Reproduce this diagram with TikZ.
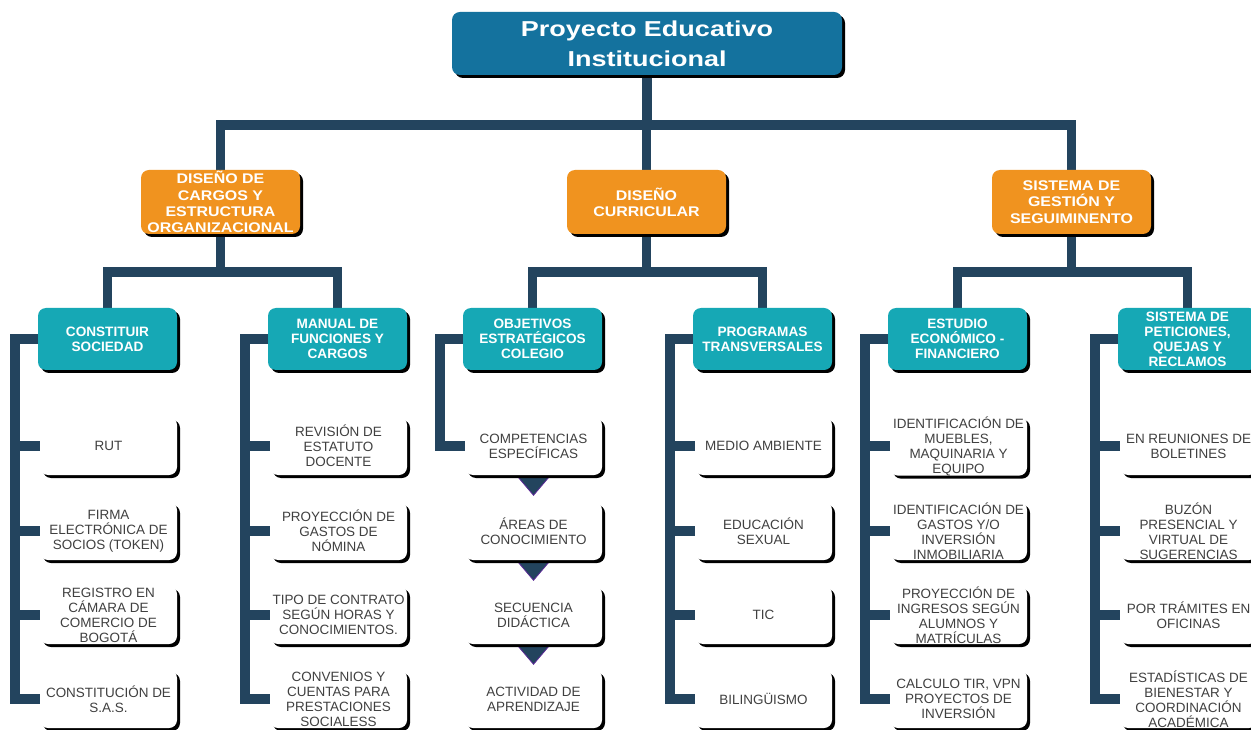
\documentclass[tikz,border=0pt]{standalone}
\usepackage{fontspec}
\setmainfont{Liberation Sans}
\newfontfamily\titlefont{Liberation Sans}[FakeStretch=1.25]
\newfontfamily\orangefont{Liberation Sans}[FakeStretch=1.14]
\usetikzlibrary{shadows,calc,backgrounds}
\definecolor{pblue}{RGB}{20,114,158}
\definecolor{porange}{RGB}{240,147,31}
\definecolor{pteal}{RGB}{22,168,181}
\definecolor{pnavy}{RGB}{35,68,94}
\definecolor{ptext}{RGB}{64,64,64}
\definecolor{ppurple}{RGB}{90,40,150}
\tikzset{
 shd/.style={drop shadow={shadow xshift=2.25pt, shadow yshift=-2.25pt, fill=black, opacity=1}},
 titlebox/.style={shd, fill=pblue, rounded corners=6pt, minimum width=292.5pt, minimum height=47.25pt, inner sep=0pt, align=center, text=white, font=\titlefont\bfseries\fontsize{16.2}{22.5}\selectfont},
 orangebox/.style={shd, fill=porange, rounded corners=6pt, minimum width=119.25pt, minimum height=48pt, inner sep=0pt, align=center, text=white, font=\orangefont\bfseries\fontsize{10.5}{12.2}\selectfont},
 tealbox/.style={shd, fill=pteal, rounded corners=6pt, minimum width=104.25pt, minimum height=46.5pt, inner sep=0pt, align=center, text=white, font=\bfseries\fontsize{10.2}{11.25}\selectfont},
 leafbox/.style={shd, fill=white, rounded corners=6pt, minimum width=102.75pt, minimum height=43.5pt, inner sep=0pt, align=center, text=ptext, font=\fontsize{10.1}{11.25}\selectfont},
 conn/.style={draw=pnavy, line width=7.2pt, line join=miter},
 tri/.style={fill=pnavy, draw=ppurple, line width=0.6pt, line join=miter}
}
\begin{document}
\begin{tikzpicture}[x=0.75pt, y=-0.75pt]
\path[use as bounding box] (0,0) rectangle (1251,730);
\clip (0,0) rectangle (1251,730);

\node[titlebox] (pei) at (647,43.5) {Proyecto Educativo\\Institucional};

\node[orangebox] (o1) at (220.5,202) {DISEÑO DE\\CARGOS Y\\ESTRUCTURA\\ORGANIZACIONAL};
\node[orangebox] (o2) at (646.5,202) {DISEÑO\\CURRICULAR};
\node[orangebox] (o3) at (1071.5,202) {SISTEMA DE\\GESTIÓN Y\\SEGUIMINENTO};

\node[tealbox] (t1) at (107.5,339) {CONSTITUIR\\SOCIEDAD};
\node[tealbox] (t2) at (337.5,339) {MANUAL DE\\FUNCIONES Y\\CARGOS};
\node[tealbox] (t3) at (532.5,339) {OBJETIVOS\\ESTRATÉGICOS\\COLEGIO};
\node[tealbox] (t4) at (762.5,339) {PROGRAMAS\\TRANSVERSALES};
\node[tealbox] (t5) at (957.5,339) {ESTUDIO\\ECONÓMICO -\\FINANCIERO};
\node[tealbox] (t6) at (1187.5,339) {SISTEMA DE\\PETICIONES,\\QUEJAS Y\\RECLAMOS};

% column 1
\node[leafbox] (w11) at (108.5,446) {RUT};
\node[leafbox] (w12) at (108.5,531) {FIRMA\\ELECTRÓNICA DE\\SOCIOS (TOKEN)};
\node[leafbox] (w13) at (108.5,615) {REGISTRO EN\\CÁMARA DE\\COMERCIO DE\\BOGOTÁ};
\node[leafbox] (w14) at (108.5,699) {CONSTITUCIÓN DE\\S.A.S.};
% column 2
\node[leafbox] (w21) at (338.5,446) {REVISIÓN DE\\ESTATUTO\\DOCENTE};
\node[leafbox] (w22) at (338.5,531) {PROYECCIÓN DE\\GASTOS DE\\NÓMINA};
\node[leafbox] (w23) at (338.5,615) {TIPO DE CONTRATO\\SEGÚN HORAS Y\\CONOCIMIENTOS.};
\node[leafbox] (w24) at (338.5,699) {CONVENIOS Y\\CUENTAS PARA\\PRESTACIONES\\SOCIALESS};
% column 3
\node[leafbox] (w31) at (533.5,446) {COMPETENCIAS\\ESPECÍFICAS};
\node[leafbox] (w32) at (533.5,531) {ÁREAS DE\\CONOCIMIENTO};
\node[leafbox] (w33) at (533.5,615) {SECUENCIA\\DIDÁCTICA};
\node[leafbox] (w34) at (533.5,699) {ACTIVIDAD DE\\APRENDIZAJE};
% column 4
\node[leafbox] (w41) at (763.5,446) {MEDIO AMBIENTE};
\node[leafbox] (w42) at (763.5,531) {EDUCACIÓN\\SEXUAL};
\node[leafbox] (w43) at (763.5,615) {TIC};
\node[leafbox] (w44) at (763.5,699) {BILINGÜISMO};
% column 5
\node[leafbox] (w51) at (958.5,446) {IDENTIFICACIÓN DE\\MUEBLES,\\MAQUINARIA Y\\EQUIPO};
\node[leafbox] (w52) at (958.5,531) {IDENTIFICACIÓN DE\\GASTOS Y/O\\INVERSIÓN\\INMOBILIARIA};
\node[leafbox] (w53) at (958.5,615) {PROYECCIÓN DE\\INGRESOS SEGÚN\\ALUMNOS Y\\MATRÍCULAS};
\node[leafbox] (w54) at (958.5,699) {CALCULO TIR, VPN\\PROYECTOS DE\\INVERSIÓN};
% column 6
\node[leafbox] (w61) at (1188.5,446) {EN REUNIONES DE\\BOLETINES};
\node[leafbox] (w62) at (1188.5,531) {BUZÓN\\PRESENCIAL Y\\VIRTUAL DE\\SUGERENCIAS};
\node[leafbox] (w63) at (1188.5,615) {POR TRÁMITES EN\\OFICINAS};
\node[leafbox] (w64) at (1188.5,699) {ESTADÍSTICAS DE\\BIENESTAR Y\\COORDINACIÓN\\ACADÉMICA};

\coordinate (bar0) at (0,125);
\coordinate (bar1) at (0,272);

\begin{scope}[on background layer]
\fill[white] (0,0) rectangle (1251,730);
% level 1
\draw[conn] (pei.south) -- (pei.south |- bar0);
\draw[conn] (o1.north) |- (o3.north |- bar0) -- (o3.north);
\draw[conn] (o2.north) -- (o2.north |- bar0);
% level 2
\draw[conn] (o1.south) -- (o1.south |- bar1);
\draw[conn] (t1.north) |- (t2.north |- bar1) -- (t2.north);
\draw[conn] (o2.south) -- (o2.south |- bar1);
\draw[conn] (t3.north) |- (t4.north |- bar1) -- (t4.north);
\draw[conn] (o3.south) -- (o3.south |- bar1);
\draw[conn] (t5.north) |- (t6.north |- bar1) -- (t6.north);
% brackets
\foreach \c in {1,2,4,5,6}{
  \coordinate (v\c) at ($(t\c.west)+(-23,0)$);
  \draw[conn] (t\c.west) -- (v\c) |- (w\c4.west);
  \foreach \r in {1,2,3}{
    \draw[conn] (w\c\r.west -| v\c) -- (w\c\r.west);
  }
}
\coordinate (v3) at ($(t3.west)+(-23,0)$);
\draw[conn] (t3.west) -- (v3) |- (w31.west);
% flow triangles
\foreach \r in {1,2,3}{
  \draw[tri] ($(w3\r.south)+(-17,0)$) -- ($(w3\r.south)+(17,0)$) -- ($(w3\r.south)+(0,20)$) -- cycle;
}
\end{scope}
\end{tikzpicture}
\end{document}
